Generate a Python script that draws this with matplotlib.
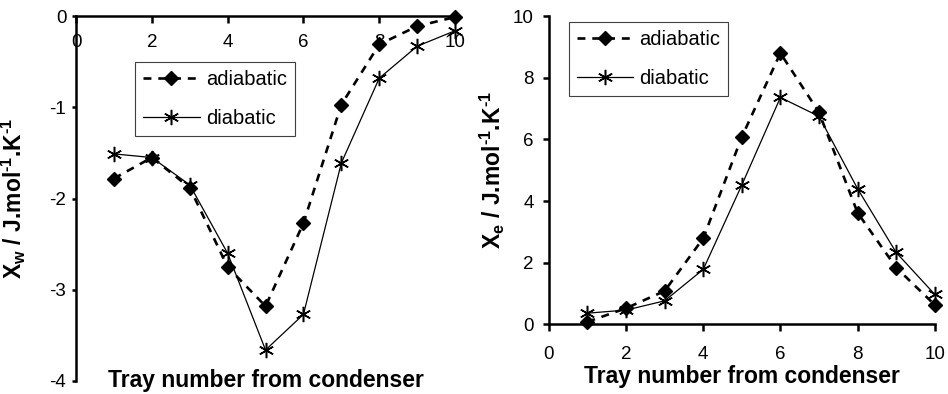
import matplotlib
matplotlib.use('Agg')
import matplotlib.pyplot as plt

plt.rcParams['font.family'] = ['Liberation Sans', 'DejaVu Sans']
plt.rcParams['mathtext.fontset'] = 'custom'
plt.rcParams['mathtext.rm'] = 'Liberation Sans:bold'
plt.rcParams['mathtext.bf'] = 'Liberation Sans:bold'
plt.rcParams['mathtext.it'] = 'Liberation Sans:bold'

# Données
trays = [1, 2, 3, 4, 5, 6, 7, 8, 9, 10]
xw_adiabatic = [-1.78, -1.55, -1.88, -2.75, -3.18, -2.27, -0.97, -0.31, -0.11, -0.01]
xw_diabatic = [-1.51, -1.55, -1.85, -2.60, -3.66, -3.27, -1.61, -0.68, -0.33, -0.16]
xe_adiabatic = [0.08, 0.52, 1.08, 2.79, 6.08, 8.80, 6.88, 3.62, 1.84, 0.63]
xe_diabatic = [0.36, 0.46, 0.76, 1.78, 4.52, 7.36, 6.75, 4.40, 2.33, 0.97]
x_ticks = [0, 2, 4, 6, 8, 10]

fig = plt.figure(figsize=(9.48, 3.94), dpi=100)
ax1 = fig.add_axes([0.0802, 0.033, 0.3998, 0.926])
ax2 = fig.add_axes([0.579, 0.177, 0.407, 0.782])

star = (6, 2, 0)

def style(ax):
    ax.spines['top'].set_visible(False)
    ax.spines['right'].set_visible(False)
    ax.spines['left'].set_linewidth(1.8)
    ax.spines['bottom'].set_linewidth(1.8)
    ax.set_xlim(0, 10)
    ax.set_xticks(x_ticks)

def draw(ax, ya, yd):
    ax.plot(trays, ya, color='black', lw=1.9, ls=(0, (3, 2.6)), marker='D',
            markersize=7.5, label='adiabatic', clip_on=False, zorder=3)
    ax.plot(trays, yd, color='black', lw=0.9, marker=star, markersize=11,
            markeredgewidth=1.1, label='diabatic', clip_on=False, zorder=4)

ylab = r'X$_{%s}$ / J.mol$^{\text{-1}}$.K$^{\text{-1}}$'

# Graphe de gauche : Xw
draw(ax1, xw_adiabatic, xw_diabatic)
style(ax1)
ax1.set_ylim(-4, 0)
ax1.set_yticks([0, -1, -2, -3, -4])
ax1.set_yticklabels(['0', '-1', '-2', '-3', '-4'])
ax1.spines['bottom'].set_position(('data', 0))
ax1.tick_params(axis='x', direction='out', length=5, width=1.8, pad=8, labelsize=13.5)
ax1.tick_params(axis='y', direction='out', length=3, width=1.8, pad=4, labelsize=13.5)
ax1.set_ylabel(ylab % 'w', fontsize=16.5, fontweight='bold')
ax1.yaxis.set_label_coords(-0.127, 0.5)
ax1.text(0.5, -0.016, 'Tray number from condenser', transform=ax1.transAxes,
         ha='center', va='baseline', fontsize=16.5, fontweight='bold')
leg1 = ax1.legend(loc='upper left', bbox_to_anchor=(0.156, 0.874), borderaxespad=0,
                  fontsize=14.5, fancybox=False, edgecolor='#404040',
                  handlelength=2.8, handletextpad=0.3, labelspacing=1.0, framealpha=1)
leg1.get_frame().set_linewidth(0.8)

# Graphe de droite : Xe
draw(ax2, xe_adiabatic, xe_diabatic)
style(ax2)
ax2.set_ylim(0, 10)
ax2.set_yticks([0, 2, 4, 6, 8, 10])
ax2.tick_params(axis='x', direction='out', length=5, width=1.8, pad=11, labelsize=13.5)
ax2.tick_params(axis='y', direction='out', length=4, width=1.8, pad=7, labelsize=13.5)
ax2.set_ylabel(ylab % 'e', fontsize=16.5, fontweight='bold')
ax2.yaxis.set_label_coords(-0.109, 0.5)
ax2.text(0.5, -0.19, 'Tray number from condenser', transform=ax2.transAxes,
         ha='center', va='baseline', fontsize=16.5, fontweight='bold')
leg2 = ax2.legend(loc='upper left', bbox_to_anchor=(0.052, 0.981), borderaxespad=0,
                  fontsize=14.5, fancybox=False, edgecolor='#404040',
                  handlelength=2.8, handletextpad=0.3, labelspacing=1.0, framealpha=1)
leg2.get_frame().set_linewidth(0.8)

plt.savefig('out.png', dpi=100)
